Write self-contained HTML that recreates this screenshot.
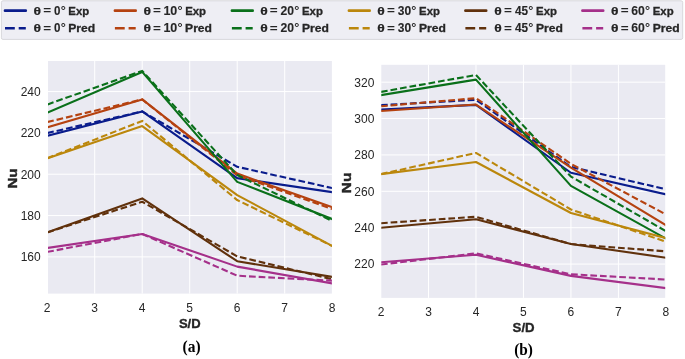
<!DOCTYPE html>
<html><head><meta charset="utf-8"><style>
html,body{margin:0;padding:0;background:#fff;}
body{width:685px;height:359px;overflow:hidden;}
svg{display:block;will-change:transform;}
</style></head><body>
<svg width="685" height="359" viewBox="0 0 685 359">
<defs>
<clipPath id="clipa"><rect x="48.0" y="61.0" width="283.90" height="232.60"/></clipPath>
<clipPath id="clipb"><rect x="381.3" y="64.8" width="283.90" height="233.10"/></clipPath>
</defs>
<rect x="0" y="0" width="685" height="359" fill="#ffffff"/>
<rect x="48.0" y="61.0" width="283.90" height="232.60" fill="#eaeaf2"/>
<line x1="94.70" y1="61.0" x2="94.70" y2="293.6" stroke="#ffffff" stroke-width="1.0"/>
<line x1="142.20" y1="61.0" x2="142.20" y2="293.6" stroke="#ffffff" stroke-width="1.0"/>
<line x1="189.70" y1="61.0" x2="189.70" y2="293.6" stroke="#ffffff" stroke-width="1.0"/>
<line x1="237.20" y1="61.0" x2="237.20" y2="293.6" stroke="#ffffff" stroke-width="1.0"/>
<line x1="284.70" y1="61.0" x2="284.70" y2="293.6" stroke="#ffffff" stroke-width="1.0"/>
<line x1="48.0" y1="256.90" x2="331.9" y2="256.90" stroke="#ffffff" stroke-width="1.0"/>
<line x1="48.0" y1="215.57" x2="331.9" y2="215.57" stroke="#ffffff" stroke-width="1.0"/>
<line x1="48.0" y1="174.23" x2="331.9" y2="174.23" stroke="#ffffff" stroke-width="1.0"/>
<line x1="48.0" y1="132.90" x2="331.9" y2="132.90" stroke="#ffffff" stroke-width="1.0"/>
<line x1="48.0" y1="91.56" x2="331.9" y2="91.56" stroke="#ffffff" stroke-width="1.0"/>
<g clip-path="url(#clipa)" fill="none" stroke-width="2.1" stroke-linejoin="round">
<polyline points="47.20,135.76 142.20,111.40 237.20,178.16 332.20,192.21" stroke="#0a1c8c" stroke-linecap="square"/>
<polyline points="47.20,133.08 142.20,111.40 237.20,166.79 332.20,188.08" stroke="#0a1c8c" stroke-linecap="butt" stroke-dasharray="6.7 2.95"/>
<polyline points="47.20,127.29 142.20,99.41 237.20,173.61 332.20,207.30" stroke="#b54210" stroke-linecap="square"/>
<polyline points="47.20,122.12 142.20,99.41 237.20,175.27 332.20,208.95" stroke="#b54210" stroke-linecap="butt" stroke-dasharray="6.7 2.95"/>
<polyline points="47.20,112.82 142.20,71.93 237.20,181.88 332.20,219.08" stroke="#0a701a" stroke-linecap="square"/>
<polyline points="47.20,104.55 142.20,70.89 237.20,175.06 332.20,220.94" stroke="#0a701a" stroke-linecap="butt" stroke-dasharray="6.7 2.95"/>
<polyline points="47.20,158.29 142.20,126.08 237.20,195.11 332.20,245.95" stroke="#bb870c" stroke-linecap="square"/>
<polyline points="47.20,158.29 142.20,120.91 237.20,200.07 332.20,245.95" stroke="#bb870c" stroke-linecap="butt" stroke-dasharray="6.7 2.95"/>
<polyline points="47.20,232.49 142.20,198.41 237.20,261.24 332.20,276.95" stroke="#60310c" stroke-linecap="square"/>
<polyline points="47.20,232.49 142.20,201.72 237.20,256.39 332.20,279.23" stroke="#60310c" stroke-linecap="butt" stroke-dasharray="6.7 2.95"/>
<polyline points="47.20,247.99 142.20,233.96 237.20,266.62 332.20,283.36" stroke="#a5308a" stroke-linecap="square"/>
<polyline points="47.20,251.92 142.20,233.96 237.20,275.71 332.20,280.67" stroke="#a5308a" stroke-linecap="butt" stroke-dasharray="6.7 2.95"/>
</g>
<text x="47.20" y="312.3" font-family='"Liberation Sans", sans-serif' font-size="12" fill="#262626" text-anchor="middle">2</text>
<text x="94.70" y="312.3" font-family='"Liberation Sans", sans-serif' font-size="12" fill="#262626" text-anchor="middle">3</text>
<text x="142.20" y="312.3" font-family='"Liberation Sans", sans-serif' font-size="12" fill="#262626" text-anchor="middle">4</text>
<text x="189.70" y="312.3" font-family='"Liberation Sans", sans-serif' font-size="12" fill="#262626" text-anchor="middle">5</text>
<text x="237.20" y="312.3" font-family='"Liberation Sans", sans-serif' font-size="12" fill="#262626" text-anchor="middle">6</text>
<text x="284.70" y="312.3" font-family='"Liberation Sans", sans-serif' font-size="12" fill="#262626" text-anchor="middle">7</text>
<text x="332.20" y="312.3" font-family='"Liberation Sans", sans-serif' font-size="12" fill="#262626" text-anchor="middle">8</text>
<text x="40.70" y="261.25" font-family='"Liberation Sans", sans-serif' font-size="12" fill="#262626" text-anchor="end">160</text>
<text x="40.70" y="219.92" font-family='"Liberation Sans", sans-serif' font-size="12" fill="#262626" text-anchor="end">180</text>
<text x="40.70" y="178.58" font-family='"Liberation Sans", sans-serif' font-size="12" fill="#262626" text-anchor="end">200</text>
<text x="40.70" y="137.25" font-family='"Liberation Sans", sans-serif' font-size="12" fill="#262626" text-anchor="end">220</text>
<text x="40.70" y="95.91" font-family='"Liberation Sans", sans-serif' font-size="12" fill="#262626" text-anchor="end">240</text>
<rect x="381.3" y="64.8" width="283.90" height="233.10" fill="#eaeaf2"/>
<line x1="428.48" y1="64.8" x2="428.48" y2="297.9" stroke="#ffffff" stroke-width="1.0"/>
<line x1="475.97" y1="64.8" x2="475.97" y2="297.9" stroke="#ffffff" stroke-width="1.0"/>
<line x1="523.45" y1="64.8" x2="523.45" y2="297.9" stroke="#ffffff" stroke-width="1.0"/>
<line x1="570.93" y1="64.8" x2="570.93" y2="297.9" stroke="#ffffff" stroke-width="1.0"/>
<line x1="618.42" y1="64.8" x2="618.42" y2="297.9" stroke="#ffffff" stroke-width="1.0"/>
<line x1="381.3" y1="264.07" x2="665.2" y2="264.07" stroke="#ffffff" stroke-width="1.0"/>
<line x1="381.3" y1="227.69" x2="665.2" y2="227.69" stroke="#ffffff" stroke-width="1.0"/>
<line x1="381.3" y1="191.31" x2="665.2" y2="191.31" stroke="#ffffff" stroke-width="1.0"/>
<line x1="381.3" y1="154.93" x2="665.2" y2="154.93" stroke="#ffffff" stroke-width="1.0"/>
<line x1="381.3" y1="118.55" x2="665.2" y2="118.55" stroke="#ffffff" stroke-width="1.0"/>
<line x1="381.3" y1="82.17" x2="665.2" y2="82.17" stroke="#ffffff" stroke-width="1.0"/>
<g clip-path="url(#clipb)" fill="none" stroke-width="2.1" stroke-linejoin="round">
<polyline points="381.00,109.53 475.97,104.91 570.93,172.76 665.90,194.40" stroke="#0a1c8c" stroke-linecap="square"/>
<polyline points="381.00,105.16 475.97,99.81 570.93,166.94 665.90,189.31" stroke="#0a1c8c" stroke-linecap="butt" stroke-dasharray="6.7 2.95"/>
<polyline points="381.00,110.98 475.97,104.54 570.93,167.66 665.90,225.14" stroke="#b54210" stroke-linecap="square"/>
<polyline points="381.00,106.25 475.97,98.18 570.93,163.84 665.90,214.41" stroke="#b54210" stroke-linecap="butt" stroke-dasharray="6.7 2.95"/>
<polyline points="381.00,95.16 475.97,79.62 570.93,185.85 665.90,238.60" stroke="#0a701a" stroke-linecap="square"/>
<polyline points="381.00,91.88 475.97,74.98 570.93,176.58 665.90,231.15" stroke="#0a701a" stroke-linecap="butt" stroke-dasharray="6.7 2.95"/>
<polyline points="381.00,174.10 475.97,162.02 570.93,212.96 665.90,238.06" stroke="#bb870c" stroke-linecap="square"/>
<polyline points="381.00,174.10 475.97,152.93 570.93,209.50 665.90,241.70" stroke="#bb870c" stroke-linecap="butt" stroke-dasharray="6.7 2.95"/>
<polyline points="381.00,227.76 475.97,219.32 570.93,244.06 665.90,257.70" stroke="#60310c" stroke-linecap="square"/>
<polyline points="381.00,223.21 475.97,216.78 570.93,244.06 665.90,251.34" stroke="#60310c" stroke-linecap="butt" stroke-dasharray="6.7 2.95"/>
<polyline points="381.00,262.32 475.97,254.79 570.93,275.89 665.90,288.08" stroke="#a5308a" stroke-linecap="square"/>
<polyline points="381.00,264.51 475.97,253.34 570.93,274.26 665.90,279.53" stroke="#a5308a" stroke-linecap="butt" stroke-dasharray="6.7 2.95"/>
</g>
<text x="381.00" y="315.6" font-family='"Liberation Sans", sans-serif' font-size="12" fill="#262626" text-anchor="middle">2</text>
<text x="428.48" y="315.6" font-family='"Liberation Sans", sans-serif' font-size="12" fill="#262626" text-anchor="middle">3</text>
<text x="475.97" y="315.6" font-family='"Liberation Sans", sans-serif' font-size="12" fill="#262626" text-anchor="middle">4</text>
<text x="523.45" y="315.6" font-family='"Liberation Sans", sans-serif' font-size="12" fill="#262626" text-anchor="middle">5</text>
<text x="570.93" y="315.6" font-family='"Liberation Sans", sans-serif' font-size="12" fill="#262626" text-anchor="middle">6</text>
<text x="618.42" y="315.6" font-family='"Liberation Sans", sans-serif' font-size="12" fill="#262626" text-anchor="middle">7</text>
<text x="665.90" y="315.6" font-family='"Liberation Sans", sans-serif' font-size="12" fill="#262626" text-anchor="middle">8</text>
<text x="374.40" y="268.42" font-family='"Liberation Sans", sans-serif' font-size="12" fill="#262626" text-anchor="end">220</text>
<text x="374.40" y="232.04" font-family='"Liberation Sans", sans-serif' font-size="12" fill="#262626" text-anchor="end">240</text>
<text x="374.40" y="195.66" font-family='"Liberation Sans", sans-serif' font-size="12" fill="#262626" text-anchor="end">260</text>
<text x="374.40" y="159.28" font-family='"Liberation Sans", sans-serif' font-size="12" fill="#262626" text-anchor="end">280</text>
<text x="374.40" y="122.90" font-family='"Liberation Sans", sans-serif' font-size="12" fill="#262626" text-anchor="end">300</text>
<text x="374.40" y="86.52" font-family='"Liberation Sans", sans-serif' font-size="12" fill="#262626" text-anchor="end">320</text>
<text transform="translate(16.90,187.60) rotate(-90) translate(-1.01,0) scale(1.1601,1)" font-family='"Liberation Sans", sans-serif' font-size="13" font-weight="bold" fill="#262626" stroke="#262626" stroke-width="0.4">Nu</text>
<text transform="translate(350.90,192.10) rotate(-90) translate(-1.03,0) scale(1.1857,1)" font-family='"Liberation Sans", sans-serif' font-size="13" font-weight="bold" fill="#262626" stroke="#262626" stroke-width="0.4">Nu</text>
<text stroke="#262626" stroke-width="0.35" transform="translate(178.92,327.50) scale(1.0024,1.0400)" font-family='"Liberation Sans", sans-serif' font-size="13" font-weight="bold" fill="#262626">S/D</text>
<text stroke="#262626" stroke-width="0.35" transform="translate(512.62,331.50) scale(1.0168,1.0400)" font-family='"Liberation Sans", sans-serif' font-size="13" font-weight="bold" fill="#262626">S/D</text>
<text transform="translate(182.52,352.00) scale(0.9112,1.0000)" font-family='"Liberation Serif", serif' font-size="17" font-weight="bold" fill="#000000">(a)</text>
<text transform="translate(514.13,354.60) scale(0.9024,1.0000)" font-family='"Liberation Serif", serif' font-size="17" font-weight="bold" fill="#000000">(b)</text>
<rect x="1.4" y="0.8" width="681.3" height="38.6" rx="1.6" ry="1.6" fill="#eeeef4" stroke="#d8d8dc" stroke-width="1"/>
<line x1="5.0" y1="10.65" x2="25.8" y2="10.65" stroke="#0a1c8c" stroke-width="2.6" stroke-linecap="round"/>
<text transform="translate(33.59,14.83) scale(1.2103,1.0249)" font-family='"Liberation Sans", sans-serif' font-size="11.5" font-weight="bold" fill="#262626" stroke="#262626" stroke-width="0.2">θ</text>
<text transform="translate(43.24,14.47) scale(1.1792,0.8973)" font-family='"Liberation Sans", sans-serif' font-size="11.5" font-weight="bold" fill="#262626">=</text>
<text transform="translate(53.94,14.83) scale(1.0056,1.0501)" font-family='"Liberation Sans", sans-serif' font-size="11.5" font-weight="bold" fill="#262626" stroke="#262626" stroke-width="0.1">0</text>
<text transform="translate(60.64,14.22) scale(1.1113,0.9894)" font-family='"Liberation Sans", sans-serif' font-size="11.5" font-weight="bold" fill="#262626">°</text>
<text stroke="#262626" stroke-width="0.3" transform="translate(68.34,14.85) scale(0.9925,1.0000)" font-family='"Liberation Sans", sans-serif' font-size="11.5" font-weight="bold" fill="#262626">Exp</text>
<line x1="5.0" y1="28.3" x2="25.8" y2="28.3" stroke="#0a1c8c" stroke-width="2.6" stroke-dasharray="9.8 3.9"/>
<text transform="translate(33.59,32.03) scale(1.2103,1.0249)" font-family='"Liberation Sans", sans-serif' font-size="11.5" font-weight="bold" fill="#262626" stroke="#262626" stroke-width="0.2">θ</text>
<text transform="translate(43.24,31.67) scale(1.1792,0.8973)" font-family='"Liberation Sans", sans-serif' font-size="11.5" font-weight="bold" fill="#262626">=</text>
<text transform="translate(53.94,32.03) scale(1.0056,1.0501)" font-family='"Liberation Sans", sans-serif' font-size="11.5" font-weight="bold" fill="#262626" stroke="#262626" stroke-width="0.1">0</text>
<text transform="translate(60.64,31.42) scale(1.1113,0.9894)" font-family='"Liberation Sans", sans-serif' font-size="11.5" font-weight="bold" fill="#262626">°</text>
<text stroke="#262626" stroke-width="0.3" transform="translate(68.29,32.05) scale(1.0525,1.0000)" font-family='"Liberation Sans", sans-serif' font-size="11.5" font-weight="bold" fill="#262626">Pred</text>
<line x1="114.9" y1="10.65" x2="135.70000000000002" y2="10.65" stroke="#b54210" stroke-width="2.6" stroke-linecap="round"/>
<text transform="translate(143.39,14.83) scale(1.2103,1.0249)" font-family='"Liberation Sans", sans-serif' font-size="11.5" font-weight="bold" fill="#262626" stroke="#262626" stroke-width="0.2">θ</text>
<text transform="translate(153.04,14.47) scale(1.1792,0.8973)" font-family='"Liberation Sans", sans-serif' font-size="11.5" font-weight="bold" fill="#262626">=</text>
<text transform="translate(163.41,14.83) scale(1.0866,1.0501)" font-family='"Liberation Sans", sans-serif' font-size="11.5" font-weight="bold" fill="#262626" stroke="#262626" stroke-width="0.1">10</text>
<text transform="translate(177.44,14.22) scale(1.1113,0.9894)" font-family='"Liberation Sans", sans-serif' font-size="11.5" font-weight="bold" fill="#262626">°</text>
<text stroke="#262626" stroke-width="0.3" transform="translate(185.14,14.85) scale(0.9925,1.0000)" font-family='"Liberation Sans", sans-serif' font-size="11.5" font-weight="bold" fill="#262626">Exp</text>
<line x1="114.9" y1="28.3" x2="135.70000000000002" y2="28.3" stroke="#b54210" stroke-width="2.6" stroke-dasharray="9.8 3.9"/>
<text transform="translate(143.39,32.03) scale(1.2103,1.0249)" font-family='"Liberation Sans", sans-serif' font-size="11.5" font-weight="bold" fill="#262626" stroke="#262626" stroke-width="0.2">θ</text>
<text transform="translate(153.04,31.67) scale(1.1792,0.8973)" font-family='"Liberation Sans", sans-serif' font-size="11.5" font-weight="bold" fill="#262626">=</text>
<text transform="translate(163.41,32.03) scale(1.0866,1.0501)" font-family='"Liberation Sans", sans-serif' font-size="11.5" font-weight="bold" fill="#262626" stroke="#262626" stroke-width="0.1">10</text>
<text transform="translate(177.44,31.42) scale(1.1113,0.9894)" font-family='"Liberation Sans", sans-serif' font-size="11.5" font-weight="bold" fill="#262626">°</text>
<text stroke="#262626" stroke-width="0.3" transform="translate(185.09,32.05) scale(1.0525,1.0000)" font-family='"Liberation Sans", sans-serif' font-size="11.5" font-weight="bold" fill="#262626">Pred</text>
<line x1="231.9" y1="10.65" x2="252.70000000000002" y2="10.65" stroke="#0a701a" stroke-width="2.6" stroke-linecap="round"/>
<text transform="translate(260.19,14.83) scale(1.2103,1.0249)" font-family='"Liberation Sans", sans-serif' font-size="11.5" font-weight="bold" fill="#262626" stroke="#262626" stroke-width="0.2">θ</text>
<text transform="translate(269.84,14.47) scale(1.1792,0.8973)" font-family='"Liberation Sans", sans-serif' font-size="11.5" font-weight="bold" fill="#262626">=</text>
<text transform="translate(280.58,14.83) scale(1.0569,1.0501)" font-family='"Liberation Sans", sans-serif' font-size="11.5" font-weight="bold" fill="#262626" stroke="#262626" stroke-width="0.1">20</text>
<text transform="translate(294.24,14.22) scale(1.1113,0.9894)" font-family='"Liberation Sans", sans-serif' font-size="11.5" font-weight="bold" fill="#262626">°</text>
<text stroke="#262626" stroke-width="0.3" transform="translate(301.94,14.85) scale(0.9925,1.0000)" font-family='"Liberation Sans", sans-serif' font-size="11.5" font-weight="bold" fill="#262626">Exp</text>
<line x1="231.9" y1="28.3" x2="252.70000000000002" y2="28.3" stroke="#0a701a" stroke-width="2.6" stroke-dasharray="9.8 3.9"/>
<text transform="translate(260.19,32.03) scale(1.2103,1.0249)" font-family='"Liberation Sans", sans-serif' font-size="11.5" font-weight="bold" fill="#262626" stroke="#262626" stroke-width="0.2">θ</text>
<text transform="translate(269.84,31.67) scale(1.1792,0.8973)" font-family='"Liberation Sans", sans-serif' font-size="11.5" font-weight="bold" fill="#262626">=</text>
<text transform="translate(280.58,32.03) scale(1.0569,1.0501)" font-family='"Liberation Sans", sans-serif' font-size="11.5" font-weight="bold" fill="#262626" stroke="#262626" stroke-width="0.1">20</text>
<text transform="translate(294.24,31.42) scale(1.1113,0.9894)" font-family='"Liberation Sans", sans-serif' font-size="11.5" font-weight="bold" fill="#262626">°</text>
<text stroke="#262626" stroke-width="0.3" transform="translate(301.89,32.05) scale(1.0525,1.0000)" font-family='"Liberation Sans", sans-serif' font-size="11.5" font-weight="bold" fill="#262626">Pred</text>
<line x1="348.9" y1="10.65" x2="369.7" y2="10.65" stroke="#bb870c" stroke-width="2.6" stroke-linecap="round"/>
<text transform="translate(377.29,14.83) scale(1.2103,1.0249)" font-family='"Liberation Sans", sans-serif' font-size="11.5" font-weight="bold" fill="#262626" stroke="#262626" stroke-width="0.2">θ</text>
<text transform="translate(386.94,14.47) scale(1.1792,0.8973)" font-family='"Liberation Sans", sans-serif' font-size="11.5" font-weight="bold" fill="#262626">=</text>
<text transform="translate(397.82,14.81) scale(1.0451,1.0479)" font-family='"Liberation Sans", sans-serif' font-size="11.5" font-weight="bold" fill="#262626" stroke="#262626" stroke-width="0.1">30</text>
<text transform="translate(411.34,14.22) scale(1.1113,0.9894)" font-family='"Liberation Sans", sans-serif' font-size="11.5" font-weight="bold" fill="#262626">°</text>
<text stroke="#262626" stroke-width="0.3" transform="translate(419.04,14.85) scale(0.9925,1.0000)" font-family='"Liberation Sans", sans-serif' font-size="11.5" font-weight="bold" fill="#262626">Exp</text>
<line x1="348.9" y1="28.3" x2="369.7" y2="28.3" stroke="#bb870c" stroke-width="2.6" stroke-dasharray="9.8 3.9"/>
<text transform="translate(377.29,32.03) scale(1.2103,1.0249)" font-family='"Liberation Sans", sans-serif' font-size="11.5" font-weight="bold" fill="#262626" stroke="#262626" stroke-width="0.2">θ</text>
<text transform="translate(386.94,31.67) scale(1.1792,0.8973)" font-family='"Liberation Sans", sans-serif' font-size="11.5" font-weight="bold" fill="#262626">=</text>
<text transform="translate(397.82,32.01) scale(1.0451,1.0479)" font-family='"Liberation Sans", sans-serif' font-size="11.5" font-weight="bold" fill="#262626" stroke="#262626" stroke-width="0.1">30</text>
<text transform="translate(411.34,31.42) scale(1.1113,0.9894)" font-family='"Liberation Sans", sans-serif' font-size="11.5" font-weight="bold" fill="#262626">°</text>
<text stroke="#262626" stroke-width="0.3" transform="translate(418.99,32.05) scale(1.0525,1.0000)" font-family='"Liberation Sans", sans-serif' font-size="11.5" font-weight="bold" fill="#262626">Pred</text>
<line x1="465.4" y1="10.65" x2="486.2" y2="10.65" stroke="#60310c" stroke-width="2.6" stroke-linecap="round"/>
<text transform="translate(494.29,14.83) scale(1.2103,1.0249)" font-family='"Liberation Sans", sans-serif' font-size="11.5" font-weight="bold" fill="#262626" stroke="#262626" stroke-width="0.2">θ</text>
<text transform="translate(503.94,14.47) scale(1.1792,0.8973)" font-family='"Liberation Sans", sans-serif' font-size="11.5" font-weight="bold" fill="#262626">=</text>
<text transform="translate(514.92,14.83) scale(1.0246,1.0655)" font-family='"Liberation Sans", sans-serif' font-size="11.5" font-weight="bold" fill="#262626" stroke="#262626" stroke-width="0.1">45</text>
<text transform="translate(528.34,14.22) scale(1.1113,0.9894)" font-family='"Liberation Sans", sans-serif' font-size="11.5" font-weight="bold" fill="#262626">°</text>
<text stroke="#262626" stroke-width="0.3" transform="translate(536.04,14.85) scale(0.9925,1.0000)" font-family='"Liberation Sans", sans-serif' font-size="11.5" font-weight="bold" fill="#262626">Exp</text>
<line x1="465.4" y1="28.3" x2="486.2" y2="28.3" stroke="#60310c" stroke-width="2.6" stroke-dasharray="9.8 3.9"/>
<text transform="translate(494.29,32.03) scale(1.2103,1.0249)" font-family='"Liberation Sans", sans-serif' font-size="11.5" font-weight="bold" fill="#262626" stroke="#262626" stroke-width="0.2">θ</text>
<text transform="translate(503.94,31.67) scale(1.1792,0.8973)" font-family='"Liberation Sans", sans-serif' font-size="11.5" font-weight="bold" fill="#262626">=</text>
<text transform="translate(514.92,32.03) scale(1.0246,1.0655)" font-family='"Liberation Sans", sans-serif' font-size="11.5" font-weight="bold" fill="#262626" stroke="#262626" stroke-width="0.1">45</text>
<text transform="translate(528.34,31.42) scale(1.1113,0.9894)" font-family='"Liberation Sans", sans-serif' font-size="11.5" font-weight="bold" fill="#262626">°</text>
<text stroke="#262626" stroke-width="0.3" transform="translate(535.99,32.05) scale(1.0525,1.0000)" font-family='"Liberation Sans", sans-serif' font-size="11.5" font-weight="bold" fill="#262626">Pred</text>
<line x1="582.4" y1="10.65" x2="603.1999999999999" y2="10.65" stroke="#a5308a" stroke-width="2.6" stroke-linecap="round"/>
<text transform="translate(610.99,14.83) scale(1.2103,1.0249)" font-family='"Liberation Sans", sans-serif' font-size="11.5" font-weight="bold" fill="#262626" stroke="#262626" stroke-width="0.2">θ</text>
<text transform="translate(620.64,14.47) scale(1.1792,0.8973)" font-family='"Liberation Sans", sans-serif' font-size="11.5" font-weight="bold" fill="#262626">=</text>
<text transform="translate(631.35,14.83) scale(1.0589,1.0501)" font-family='"Liberation Sans", sans-serif' font-size="11.5" font-weight="bold" fill="#262626" stroke="#262626" stroke-width="0.1">60</text>
<text transform="translate(645.04,14.22) scale(1.1113,0.9894)" font-family='"Liberation Sans", sans-serif' font-size="11.5" font-weight="bold" fill="#262626">°</text>
<text stroke="#262626" stroke-width="0.3" transform="translate(652.74,14.85) scale(0.9925,1.0000)" font-family='"Liberation Sans", sans-serif' font-size="11.5" font-weight="bold" fill="#262626">Exp</text>
<line x1="582.4" y1="28.3" x2="603.1999999999999" y2="28.3" stroke="#a5308a" stroke-width="2.6" stroke-dasharray="9.8 3.9"/>
<text transform="translate(610.99,32.03) scale(1.2103,1.0249)" font-family='"Liberation Sans", sans-serif' font-size="11.5" font-weight="bold" fill="#262626" stroke="#262626" stroke-width="0.2">θ</text>
<text transform="translate(620.64,31.67) scale(1.1792,0.8973)" font-family='"Liberation Sans", sans-serif' font-size="11.5" font-weight="bold" fill="#262626">=</text>
<text transform="translate(631.35,32.03) scale(1.0589,1.0501)" font-family='"Liberation Sans", sans-serif' font-size="11.5" font-weight="bold" fill="#262626" stroke="#262626" stroke-width="0.1">60</text>
<text transform="translate(645.04,31.42) scale(1.1113,0.9894)" font-family='"Liberation Sans", sans-serif' font-size="11.5" font-weight="bold" fill="#262626">°</text>
<text stroke="#262626" stroke-width="0.3" transform="translate(652.69,32.05) scale(1.0525,1.0000)" font-family='"Liberation Sans", sans-serif' font-size="11.5" font-weight="bold" fill="#262626">Pred</text>
</svg>
</body></html>
